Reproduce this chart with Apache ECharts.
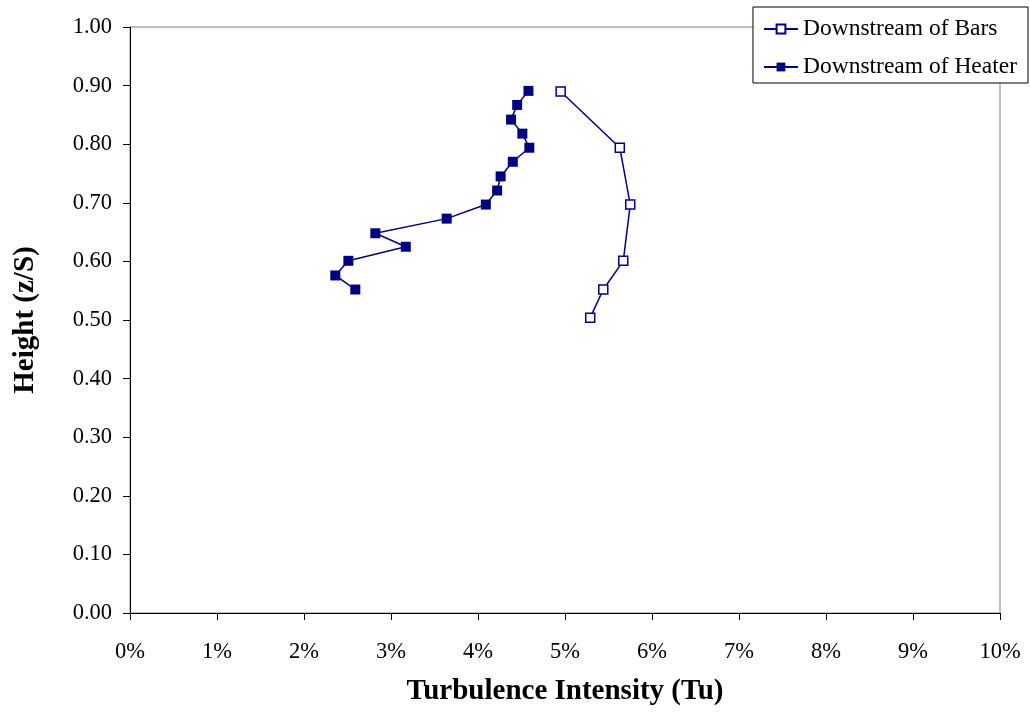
<!DOCTYPE html>
<html>
<head>
<meta charset="utf-8">
<script src="https://cdn.jsdelivr.net/npm/echarts@6/dist/echarts.min.js"></script>
<style>
  html, body { margin: 0; padding: 0; background: #fff; }
  #chart { width: 1030px; height: 713px; }
</style>
</head>
<body>
<div id="chart"></div>
<script>
// Turbulence intensity profiles (Tu in %) against normalised height z/S
const barsTu      = [4.95, 5.63, 5.75, 5.67, 5.44, 5.29];
const barsHeight  = [0.890, 0.794, 0.697, 0.601, 0.552, 0.504];

const heaterTu     = [4.58, 4.45, 4.38, 4.51, 4.59, 4.40, 4.26, 4.22, 4.09, 3.64, 2.82, 3.17, 2.51, 2.36, 2.59];
const heaterHeight = [0.891, 0.867, 0.842, 0.818, 0.794, 0.770, 0.745, 0.721, 0.697, 0.673, 0.648, 0.625, 0.601, 0.576, 0.552];

const seriesNames = ['Downstream of Bars', 'Downstream of Heater'];
const xTitle = 'Turbulence Intensity (Tu)';
const yTitle = 'Height (z/S)';

const FONT = "'Liberation Serif', 'Times New Roman', serif";
const NAVY = '#000080';

const pairs = (xs, ys) => xs.map((x, i) => [x, ys[i]]);

const chart = echarts.init(document.getElementById('chart'), null, { renderer: 'canvas' });

chart.setOption({
  animation: false,
  backgroundColor: '#ffffff',
  grid: {
    left: 130, right: 30, top: 27, bottom: 100,
    show: true, borderColor: '#808080', borderWidth: 1, backgroundColor: 'transparent'
  },
  legend: {
    orient: 'vertical',
    right: 2, top: 7,
    backgroundColor: '#ffffff',
    borderColor: '#000000', borderWidth: 1,
    padding: [10, 11, 4, 10],
    itemWidth: 34, itemHeight: 11, itemGap: 14,
    textStyle: { fontFamily: FONT, fontSize: 23.5, color: '#000' },
    data: seriesNames
  },
  xAxis: {
    type: 'value', min: 0, max: 10, interval: 1,
    name: xTitle, nameLocation: 'middle', nameGap: 64,
    nameTextStyle: { fontFamily: FONT, fontSize: 29, fontWeight: 'bold', color: '#000' },
    axisLine: { show: true, onZero: false, lineStyle: { color: '#000', width: 1 } },
    axisTick: { show: true, inside: false, length: 7, lineStyle: { color: '#000' } },
    axisLabel: { fontFamily: FONT, fontSize: 22.5, color: '#000', margin: 28, formatter: v => v + '%' },
    splitLine: { show: false }
  },
  yAxis: {
    type: 'value', min: 0, max: 1, interval: 0.1,
    name: yTitle, nameLocation: 'middle', nameGap: 90, nameRotate: 90,
    nameTextStyle: { fontFamily: FONT, fontSize: 29, fontWeight: 'bold', color: '#000' },
    axisLine: { show: true, onZero: false, lineStyle: { color: '#000', width: 1 } },
    axisTick: { show: true, inside: false, length: 7, lineStyle: { color: '#000' } },
    axisLabel: { fontFamily: FONT, fontSize: 22.5, color: '#000', margin: 18, formatter: v => v.toFixed(2) },
    splitLine: { show: false }
  },
  series: [
    {
      name: seriesNames[0], type: 'line',
      data: pairs(barsTu, barsHeight),
      symbol: 'rect', symbolSize: 9,
      lineStyle: { color: NAVY, width: 1.5 },
      itemStyle: { color: '#ffffff', borderColor: NAVY, borderWidth: 1.5 },
      emphasis: { disabled: true }
    },
    {
      name: seriesNames[1], type: 'line',
      data: pairs(heaterTu, heaterHeight),
      symbol: 'rect', symbolSize: 10,
      lineStyle: { color: NAVY, width: 1.5 },
      itemStyle: { color: NAVY, borderColor: NAVY, borderWidth: 0 },
      emphasis: { disabled: true }
    }
  ]
});
</script>
</body>
</html>
